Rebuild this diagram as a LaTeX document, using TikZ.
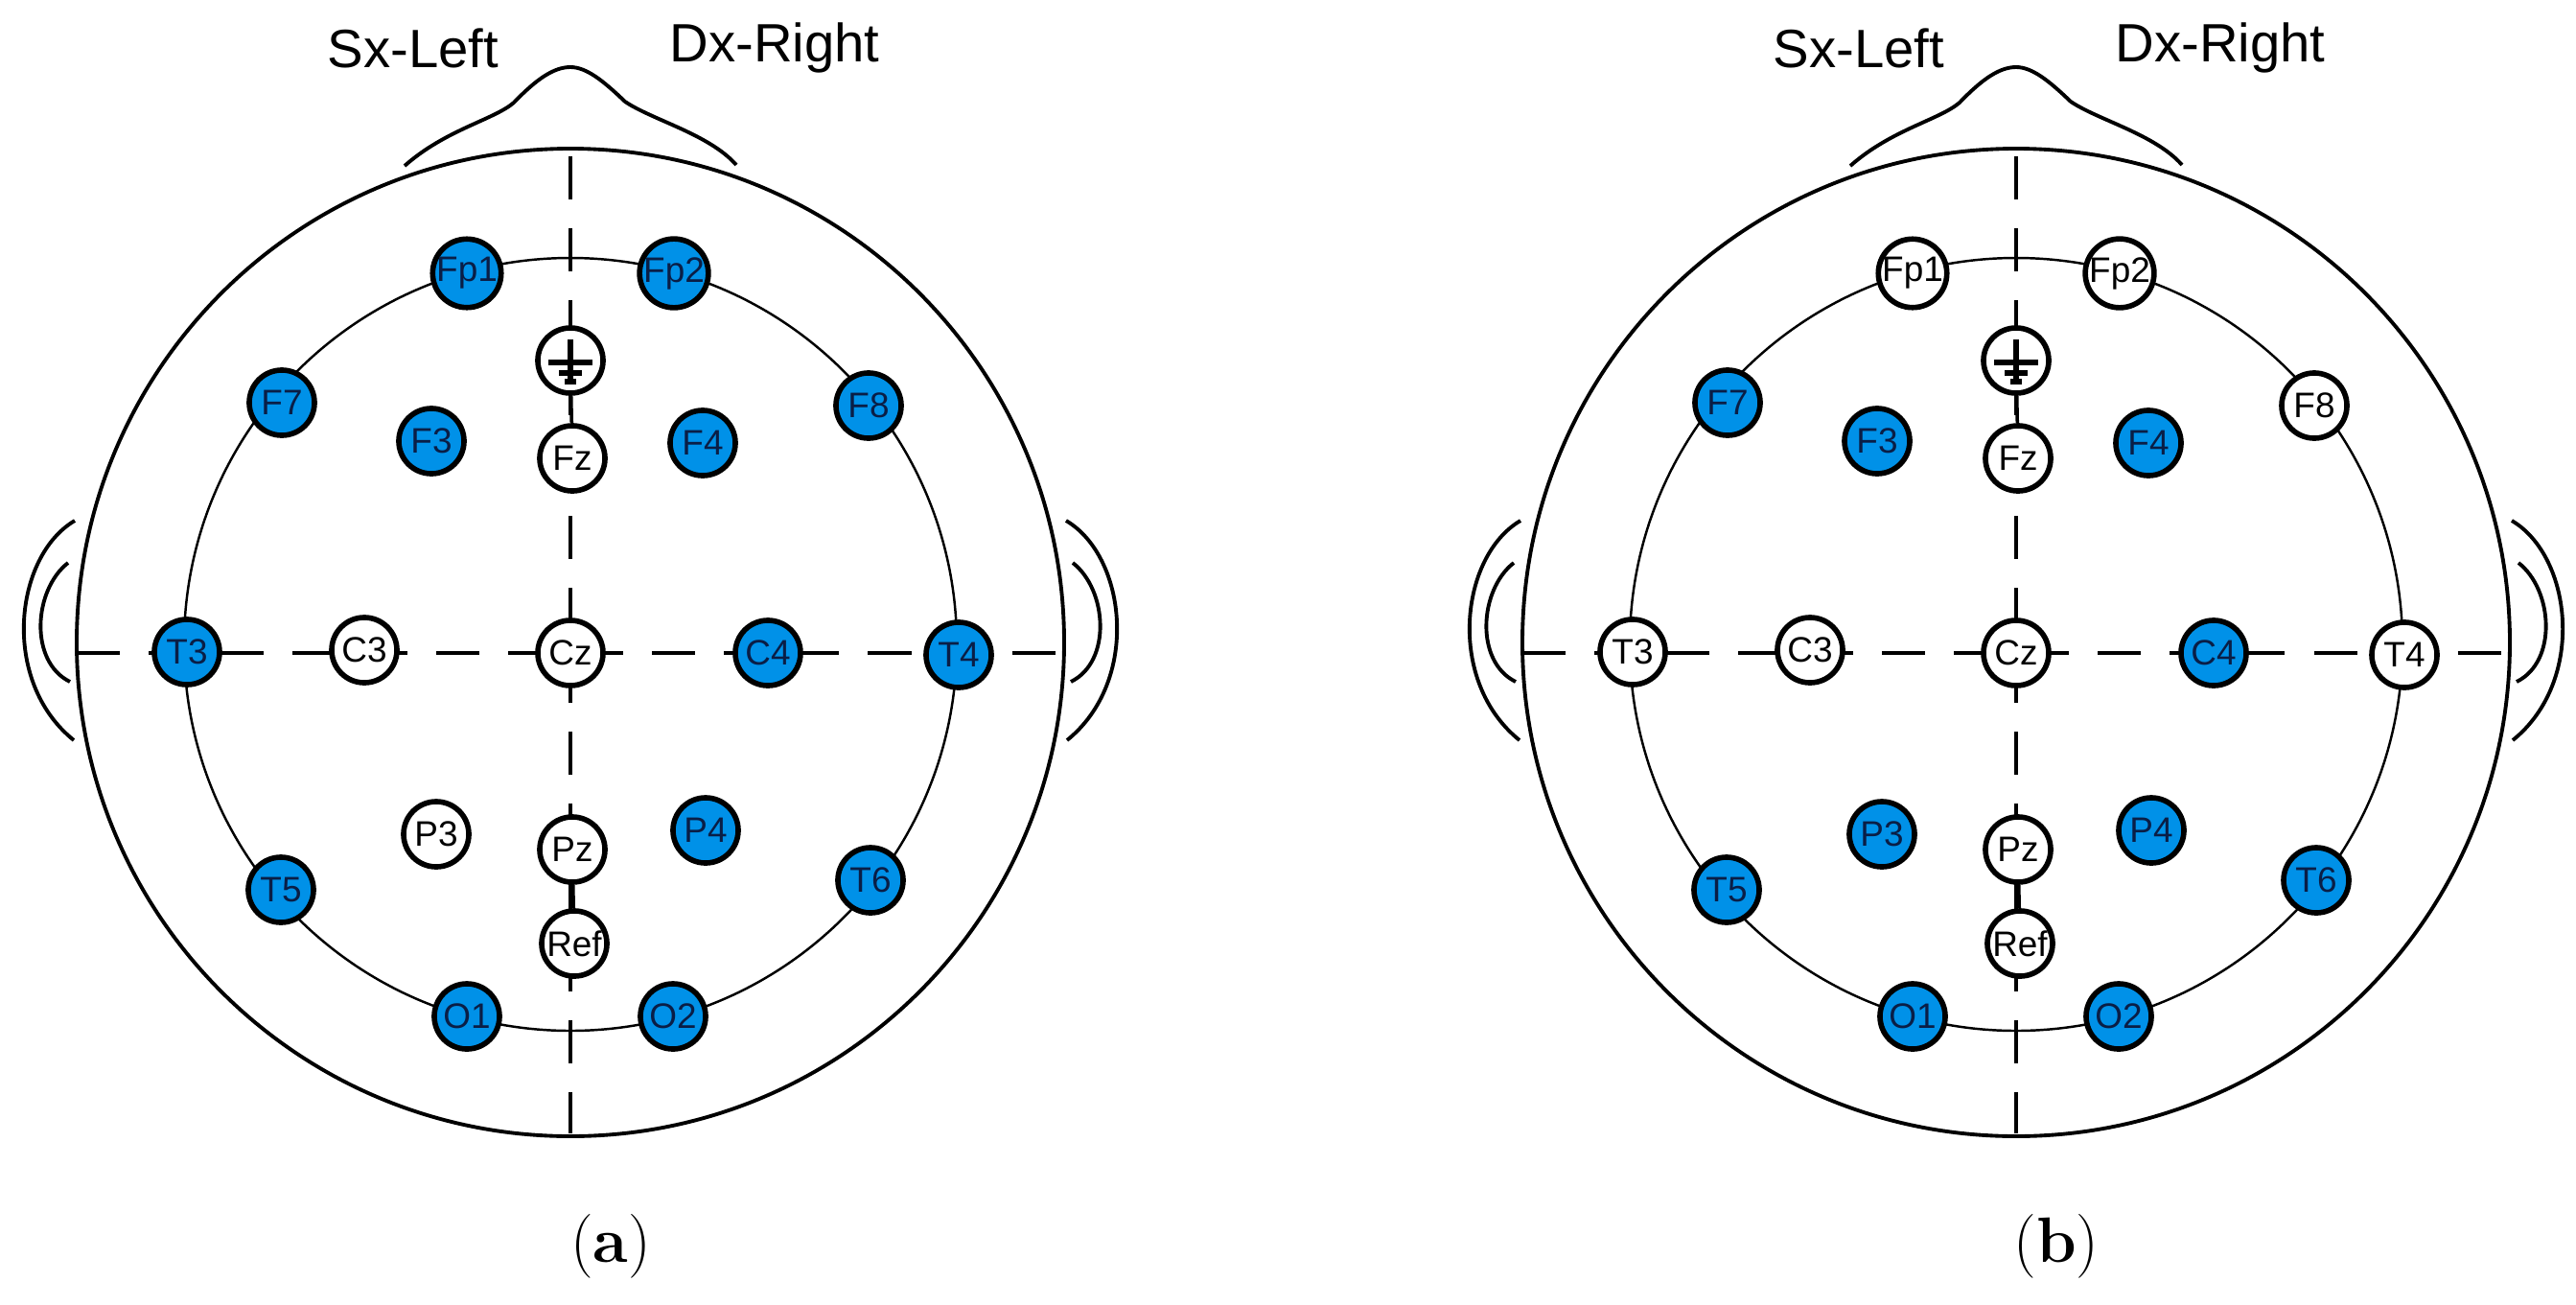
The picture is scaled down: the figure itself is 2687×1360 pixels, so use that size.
\documentclass[tikz,border=0pt]{standalone}
\usepackage{fontspec}
\newfontfamily\sans{Liberation Sans}
\definecolor{eegblue}{RGB}{0,145,232}
\definecolor{eegtext}{RGB}{10,30,70}
\begin{document}
\begin{tikzpicture}[x=0.01cm,y=-0.01cm,
  head/.style={line width=1.1pt},
  inner/.style={line width=0.7pt},
  axis/.style={line width=1pt,dash pattern=on 0.45cm off 0.3cm},
  el/.style={circle,draw,line width=1.6pt,minimum size=0.68cm,inner sep=0pt,font=\sans\fontsize{10.5}{10.5}\selectfont},
  ebl/.style={el,fill=eegblue,text=eegtext},
  ewh/.style={el,fill=white,text=black},
  side/.style={font=\sans\fontsize{16}{16}\selectfont},
  capt/.style={font=\fontsize{19}{19}\selectfont}]
\useasboundingbox (0,0) rectangle (2687,1360);
\foreach \o/\p/\aa/\bb in {0/a/ebl/ewh,1508/b/ewh/ebl}{
\begin{scope}[shift={(\o,0)},
  BW/.style={\aa},WB/.style={\bb},BB/.style={ebl},WW/.style={ewh}]
  % ears
  \draw[head] (78,543) .. controls (15,580) and (0,710) .. (77,772);
  \draw[head] (71,587) .. controls (35,615) and (30,690) .. (73,711);
  \draw[head] (1112,543) .. controls (1175,580) and (1190,710) .. (1113,772);
  \draw[head] (1119,587) .. controls (1155,615) and (1160,690) .. (1117,711);
  % nose
  \draw[head] (422,173) .. controls (465,135) and (515,125) .. (536,107)
     .. controls (560,82) and (578,70) .. (595,70)
     .. controls (612,70) and (630,85) .. (652,106)
     .. controls (680,125) and (740,140) .. (768,172);
  % head outline and inner circle
  \draw[head,fill=white] (595,670) circle[radius=515];
  \draw[inner] (595,672) circle[radius=403];
  % axes
  \draw[axis] (595,163) -- (595,1182);
  \draw[axis] (80,681) -- (1105,681);
  % ground
  \node[ewh] (\p G) at (595,376) {};
  \draw[line width=1.5pt] (595,354) -- (595,398)
     (572,378) -- (618,378) (583,389) -- (607,389) (589,398) -- (601,398);
  % electrodes
  \foreach \n/\x/\y/\s in {Fp1/487/285/BW,Fp2/703/285/BW,F7/294/420/BB,F8/906/423/BW,
     F3/450/460/BB,F4/733/462/BB,Fz/597/478/WW,T3/195/680/BW,C3/380/678/WW,
     Cz/595/681/WW,C4/801/681/BB,T4/1000/683/BW,P3/455/870/WB,Pz/597/886/WW,
     P4/736/866/BB,T5/293/928/BB,T6/908/918/BB,Ref/599/984/WW,O1/487/1060/BB,O2/702/1060/BB}{
    \node[\s] (\p\n) at (\x,\y) {\n};
  }
  \draw[line width=1pt] (\p G) -- (\p Fz);
  \draw[line width=1pt] (\p Pz) -- (\p Ref);
  \node[side] (\p sx) at (431,50) {Sx-Left};
  \node[side] (\p dx) at (808,50) {Dx-Right};
\end{scope}}
\node[capt] (capa) at (637,1300) {(\textbf{a})};
\node[capt] (capb) at (2145,1300) {(\textbf{b})};
\end{tikzpicture}
\end{document}
